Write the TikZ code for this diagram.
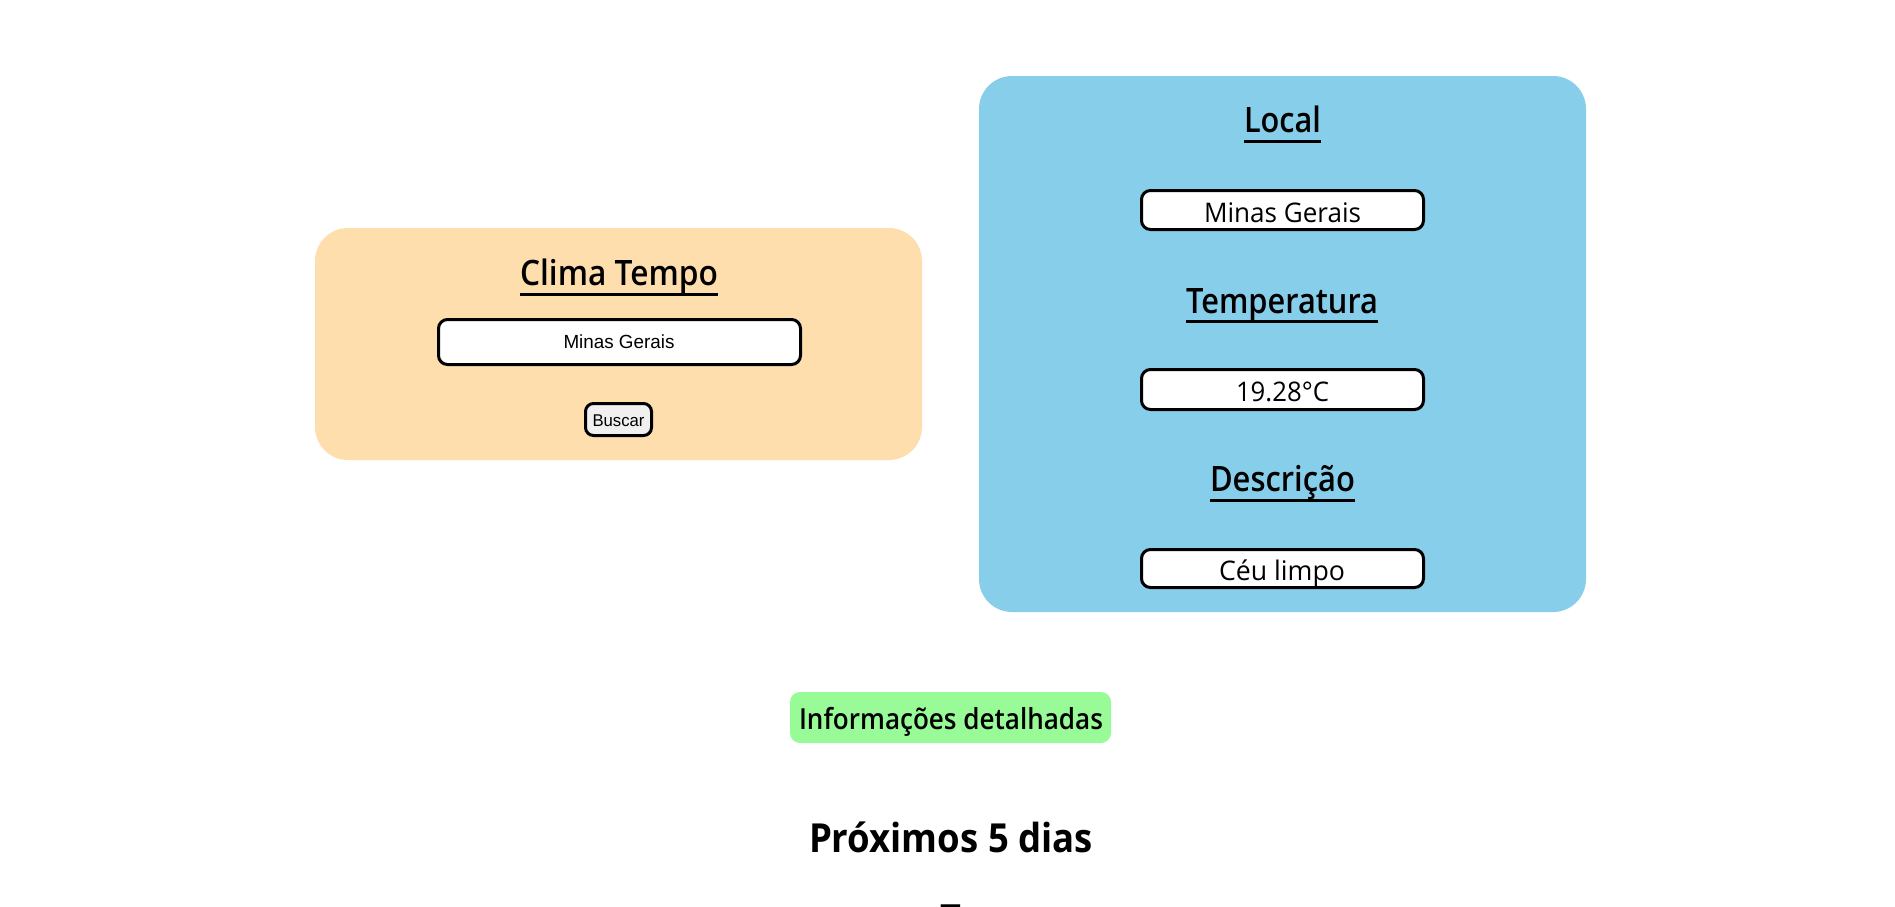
\documentclass[tikz,border=0pt]{standalone}
\usepackage{fontspec}
\usepackage{graphicx}
\setmainfont{Open Sans}
\newfontfamily\semib{Open Sans Semibold}
\newfontfamily\arialf{Liberation Sans}
\definecolor{navajo}{HTML}{FFDEAD}
\definecolor{skyb}{HTML}{87CEEB}
\definecolor{paleg}{HTML}{98FB98}
\definecolor{btngray}{HTML}{F0F0F0}
\newsavebox\fitbox
\newcommand\fitw[2]{\sbox\fitbox{#2}\scalebox{\fpeval{round(#1/(\the\wd\fitbox),4)}}[1]{\usebox\fitbox}}
\tikzset{
  txt/.style={inner sep=0pt, outer sep=0pt, anchor=base},
  uline/.style={line width=3pt},
  inbox/.style={draw=black, line width=3pt, fill=white, rounded corners=9pt},
  panel/.style={rounded corners=33pt},
}
\begin{document}
\begin{tikzpicture}[x=1pt,y=-1pt]
\useasboundingbox[fill=white] (0,0) rectangle (1895,906);
% left panel
\fill[navajo, panel] (315,228) rectangle (922,460);
\node[txt] (ct) at (619,285.5) {\fitw{198}{\semib\fontsize{35}{42}\selectfont Clima Tempo}};
\draw[uline] ([yshift=-8.7pt]ct.base west) -- ([yshift=-8.7pt]ct.base east);
\draw[inbox] (438.5,319.5) rectangle (800.5,364.5);
\node[txt] (cin) at (619,348) {\fitw{111}{\arialf\fontsize{19}{23}\selectfont Minas Gerais}};
\draw[inbox, fill=btngray, rounded corners=8pt] (585.5,403.5) rectangle (651.5,435.5);
\node[txt] (bus) at (618.5,426) {\fitw{52}{\arialf\fontsize{17}{20}\selectfont Buscar}};
% right panel
\fill[skyb, panel] (979,76) rectangle (1586,612);
\node[txt] (loc) at (1282.5,132.5) {\fitw{77}{\semib\fontsize{35}{42}\selectfont Local}};
\draw[uline] ([yshift=-8.7pt]loc.base west) -- ([yshift=-8.7pt]loc.base east);
\draw[inbox] (1141.5,190.5) rectangle (1423.5,229.5);
\node[txt] (v1) at (1282.5,222) {\fitw{157}{\fontsize{27}{32}\selectfont Minas Gerais}};
\node[txt] (tmp) at (1282,313) {\fitw{192}{\semib\fontsize{35}{42}\selectfont Temperatura}};
\draw[uline] ([yshift=-8.7pt]tmp.base west) -- ([yshift=-8.7pt]tmp.base east);
\draw[inbox] (1141.5,369.5) rectangle (1423.5,409.5);
\node[txt] (v2) at (1282.5,401) {\fitw{93}{\fontsize{27}{32}\selectfont 19.28°C}};
\node[txt] (dsc) at (1282.5,491.8) {\fitw{145}{\semib\fontsize{35}{42}\selectfont Descrição}};
\draw[uline] ([yshift=-8.7pt]dsc.base west) -- ([yshift=-8.7pt]dsc.base east);
\draw[inbox] (1141.5,549.5) rectangle (1423.5,587.5);
\node[txt] (v3) at (1282,580.5) {\fitw{126}{\fontsize{27}{32}\selectfont Céu limpo}};
% green button
\fill[paleg, rounded corners=10pt] (790,692) rectangle (1111,743);
\node[txt] (info) at (951,729) {\fitw{304}{\semib\fontsize{29}{35}\selectfont Informações detalhadas}};
% heading
\node[txt] (prox) at (951,852) {\fitw{284}{\bfseries\fontsize{40}{48}\selectfont Próximos 5 dias}};
\node[txt] (cut) at (950.5,930) {\bfseries\fontsize{36}{43}\selectfont T};
\end{tikzpicture}
\end{document}
